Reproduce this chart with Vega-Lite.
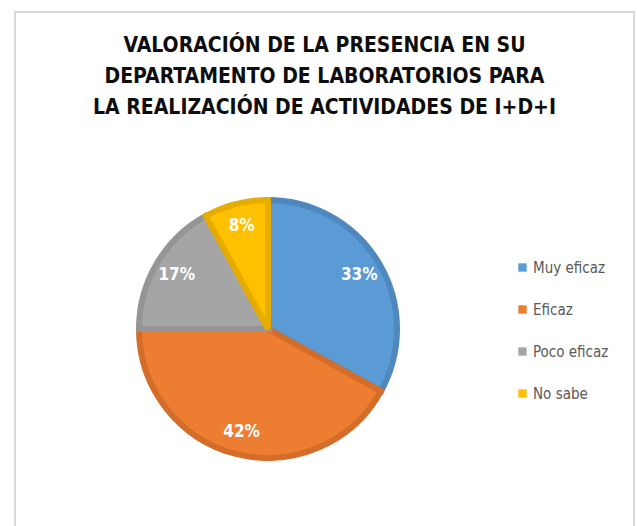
{
  "$schema": "https://vega.github.io/schema/vega-lite/v6.json",
  "autosize": {"type": "none"},
  "width": 619,
  "height": 540,
  "padding": {"left": 15, "top": 12, "right": 3, "bottom": -26},
  "background": "white",
  "title": {
    "text": ["VALORACIÓN DE LA PRESENCIA EN SU", "DEPARTAMENTO DE LABORATORIOS PARA", "LA REALIZACIÓN DE ACTIVIDADES DE I+D+I"],
    "font": "DejaVu Sans Condensed, sans-serif",
    "fontSize": 21,
    "fontWeight": "bold",
    "color": "#0d0d0d",
    "lineHeight": 31,
    "offset": -106
  },
  "config": {"view": {"stroke": "#d9d9d9", "strokeWidth": 2}},
  "data": {
    "values": [
      {"categoria": "Muy eficaz", "pct": 33, "orden": 1, "etiqueta": "33%"},
      {"categoria": "Eficaz", "pct": 42, "orden": 2, "etiqueta": "42%"},
      {"categoria": "Poco eficaz", "pct": 17, "orden": 3, "etiqueta": "17%"},
      {"categoria": "No sabe", "pct": 8, "orden": 4, "etiqueta": "8%"}
    ]
  },
  "encoding": {
    "theta": {"field": "pct", "type": "quantitative", "stack": true},
    "order": {"field": "orden", "type": "quantitative"},
    "x": {"datum": 0.4087, "type": "quantitative", "scale": {"domain": [0, 1]}, "axis": null},
    "y": {"datum": 0.413, "type": "quantitative", "scale": {"domain": [0, 1]}, "axis": null}
  },
  "layer": [
    {
      "mark": {"type": "arc", "outerRadius": 129, "strokeWidth": 6, "strokeJoin": "miter"},
      "encoding": {
        "color": {
          "field": "categoria",
          "type": "nominal",
          "scale": {"domain": ["Muy eficaz", "Eficaz", "Poco eficaz", "No sabe"], "range": ["#5b9bd5", "#ed7d31", "#a5a5a5", "#ffc000"]},
          "legend": {
            "title": null,
            "orient": "none",
            "legendX": 500,
            "legendY": 248,
            "symbolType": "square",
            "symbolSize": 70,
            "symbolStrokeWidth": 0,
            "labelFont": "DejaVu Sans Condensed, sans-serif",
            "labelFontSize": 15,
            "labelColor": "#595959",
            "labelOffset": 3,
            "rowPadding": 26
          }
        },
        "stroke": {
          "field": "categoria",
          "type": "nominal",
          "scale": {"domain": ["Muy eficaz", "Eficaz", "Poco eficaz", "No sabe"], "range": ["#4e88bf", "#d46d29", "#959595", "#e6ad00"]},
          "legend": null
        }
      }
    },
    {
      "mark": {"type": "text", "radius": 106, "font": "DejaVu Sans Condensed, sans-serif", "fontSize": 17, "fontWeight": "bold", "color": "white"},
      "encoding": {"text": {"field": "etiqueta"}}
    }
  ]
}
